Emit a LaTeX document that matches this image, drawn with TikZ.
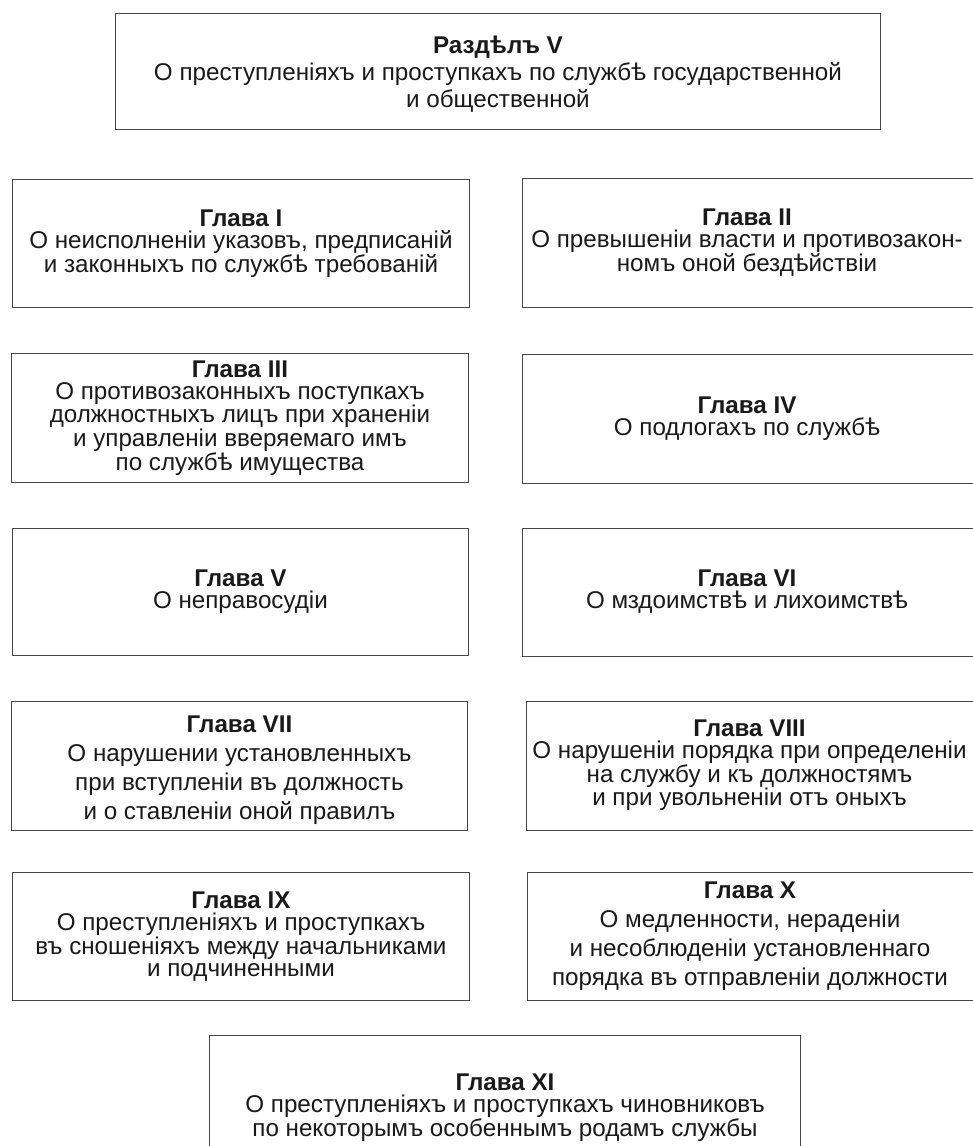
\documentclass[tikz,border=0pt]{standalone}
\usepackage{fontspec}
\setmainfont{Liberation Sans}
\begin{document}
\begin{tikzpicture}[x=1pt,y=-1pt,
  box/.style={draw=black!72,line width=0.9pt,fill=none,inner sep=0pt,anchor=north west},
  txt/.style={align=center,text=black!90,inner sep=0pt,font=\fontsize{24.2}{22}\selectfont},
  wtxt/.style={align=center,text=black!90,inner sep=0pt,font=\fontsize{24.2}{29}\selectfont},
  ttxt/.style={align=center,text=black!90,inner sep=0pt,font=\fontsize{24.2}{27}\selectfont}]
\useasboundingbox (0,0) rectangle (973,1146);

\node[box,minimum width=765pt,minimum height=116pt] (b0) at (115,13) {};
\node[ttxt] (t0) at ([yshift=-3pt]b0.center) {\textbf{Раздѣлъ V}\\О преступленіяхъ и проступкахъ по службѣ государственной\\и общественной};

\node[box,minimum width=457pt,minimum height=128pt] (b1) at (12,179) {};
\node[txt] (t1) at (b1.center) {\textbf{Глава I}\\О неисполненіи указовъ, предписаній\\и законныхъ по службѣ требованій};

\node[box,minimum width=470pt,minimum height=129pt] (b2) at (522,178) {};
\node[txt] (t2) at (747,243) {\textbf{Глава II}\\О превышеніи власти и противозакон-\\номъ оной бездѣйствіи};

\node[box,minimum width=457pt,minimum height=129pt] (b3) at (11,353) {};
\node[txt] (t3) at (b3.center) {\textbf{Глава III}\\О противозаконныхъ поступкахъ\\должностныхъ лицъ при храненіи\\и управленіи вверяемаго имъ\\по службѣ имущества};

\node[box,minimum width=470pt,minimum height=129pt] (b4) at (522,354) {};
\node[txt] (t4) at (747,418.5) {\textbf{Глава IV}\\О подлогахъ по службѣ};

\node[box,minimum width=456pt,minimum height=127pt] (b5) at (12,528) {};
\node[txt] (t5) at (b5.center) {\textbf{Глава V}\\О неправосудіи};

\node[box,minimum width=470pt,minimum height=128pt] (b6) at (522,528) {};
\node[txt] (t6) at (747,592) {\textbf{Глава VI}\\О мздоимствѣ и лихоимствѣ};

\node[box,minimum width=456pt,minimum height=129pt] (b7) at (11,701) {};
\node[wtxt] (t7) at ([yshift=-4pt]b7.center) {\textbf{Глава VII}\\О нарушении установленныхъ\\при вступленіи въ должность\\и о ставленіи оной правилъ};

\node[box,minimum width=470pt,minimum height=129pt] (b8) at (526,701) {};
\node[txt] (t8) at (749.5,765.5) {\textbf{Глава VIII}\\О нарушеніи порядка при определеніи\\на службу и къ должностямъ\\и при увольненіи отъ оныхъ};

\node[box,minimum width=457pt,minimum height=128pt] (b9) at (12,872) {};
\node[txt] (t9) at (b9.center) {\textbf{Глава IX}\\О преступленіяхъ и проступкахъ\\въ сношеніяхъ между начальниками\\и подчиненными};

\node[box,minimum width=470pt,minimum height=128pt] (b10) at (527,872) {};
\node[wtxt] (t10) at (750,936) {\textbf{Глава X}\\О медленности, нераденіи\\и несоблюденіи установленнаго\\порядка въ отправленіи должности};

\node[box,minimum width=591pt,minimum height=130pt] (b11) at (209,1035) {};
\node[txt] (t11) at (505,1108) {\textbf{Глава XI}\\О преступленіяхъ и проступкахъ чиновниковъ\\по некоторымъ особеннымъ родамъ службы};
\end{tikzpicture}
\end{document}
